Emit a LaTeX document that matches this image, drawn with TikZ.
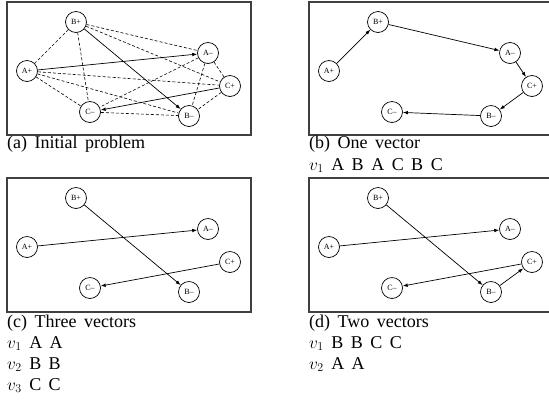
\documentclass[tikz,border=0pt]{standalone}
\usepackage{fontspec}
\setmainfont{Liberation Serif}
\usetikzlibrary{arrows.meta}
\newcommand\capfont{\fontsize{18}{21}\selectfont\spaceskip 7.5pt\relax}
\tikzset{
  vtx/.style={draw, circle, minimum size=21pt, inner sep=0pt, line width=0.7pt,
    font=\fontsize{8}{9}\selectfont},
  frame/.style={draw=black!75, line width=1.1pt},
  arc/.style={-{Latex[length=5pt,width=3.6pt]}, line width=0.7pt},
  dsh/.style={dash pattern=on 3pt off 2pt, line width=0.6pt},
  captxt/.style={anchor=base west, inner sep=0pt, font=\capfont},
}
\newcommand\placenodes[1]{%
  \node[vtx] (#1Bp) at (69,20) {B+};
  \node[vtx] (#1Ap) at (20,69) {A+};
  \node[vtx] (#1Am) at (201,51) {A--};
  \node[vtx] (#1Cp) at (223,84) {C+};
  \node[vtx] (#1Cm) at (83,110) {C--};
  \node[vtx] (#1Bm) at (182,114) {B--};
}
\begin{document}
\begin{tikzpicture}[x=1pt,y=-1pt]
\useasboundingbox (0,0) rectangle (549,400);
\clip (0,0) rectangle (549,400);
% ---------- (a)
\draw[frame] (7,2) rectangle (251,135);
\begin{scope}[shift={(7,2)}]
  \placenodes{a}
  \draw[dsh] (aBp) -- (aAp);
  \draw[dsh] (aBp) -- (aAm);
  \draw[dsh] (aBp) -- (aCp);
  \draw[dsh] (aBp) -- (aCm);
  \draw[dsh] (aAp) -- (aCp);
  \draw[dsh] (aAp) -- (aCm);
  \draw[dsh] (aAp) -- (aBm);
  \draw[dsh] (aAm) -- (aCm);
  \draw[dsh] (aAm) -- (aBm);
  \draw[dsh] (aAm) -- (aCp);
  \draw[dsh] (aCp) -- (aBm);
  \draw[dsh] (aCm) -- (aBm);
  \draw[arc] (aAp) -- (aAm);
  \draw[arc] (aBp) -- (aBm);
  \draw[arc] (aCp) -- (aCm);
\end{scope}
\node[captxt] (capa) at (7,148) {(a) Initial problem};
% ---------- (b)
\draw[frame] (309,2) rectangle (560,135);
\begin{scope}[shift={(309,2)}]
  \placenodes{b}
  \draw[arc] (bAp) -- (bBp);
  \draw[arc] (bBp) -- (bAm);
  \draw[arc] (bAm) -- (bCp);
  \draw[arc] (bCp) -- (bBm);
  \draw[arc] (bBm) -- (bCm);
\end{scope}
\node[captxt] (capb) at (309,148) {(b) One vector};
\node[captxt] (capbv) at (309,170) {$v_1$ A B A C B C};
% ---------- (c)
\draw[frame] (7,178) rectangle (251,312);
\begin{scope}[shift={(7,178)}]
  \placenodes{c}
  \draw[arc] (cAp) -- (cAm);
  \draw[arc] (cBp) -- (cBm);
  \draw[arc] (cCp) -- (cCm);
\end{scope}
\node[captxt] (capc) at (7,327) {(c) Three vectors};
\node[captxt] (capc1) at (7,348) {$v_1$ A A};
\node[captxt] (capc2) at (7,369) {$v_2$ B B};
\node[captxt] (capc3) at (7,390) {$v_3$ C C};
% ---------- (d)
\draw[frame] (309,178) rectangle (560,312);
\begin{scope}[shift={(309,178)}]
  \placenodes{d}
  \draw[arc] (dAp) -- (dAm);
  \draw[arc] (dBp) -- (dBm);
  \draw[arc] (dBm) -- (dCp);
  \draw[arc] (dCp) -- (dCm);
\end{scope}
\node[captxt] (capd) at (309,327) {(d) Two vectors};
\node[captxt] (capd1) at (309,348) {$v_1$ B B C C};
\node[captxt] (capd2) at (309,369) {$v_2$ A A};
\end{tikzpicture}
\end{document}
